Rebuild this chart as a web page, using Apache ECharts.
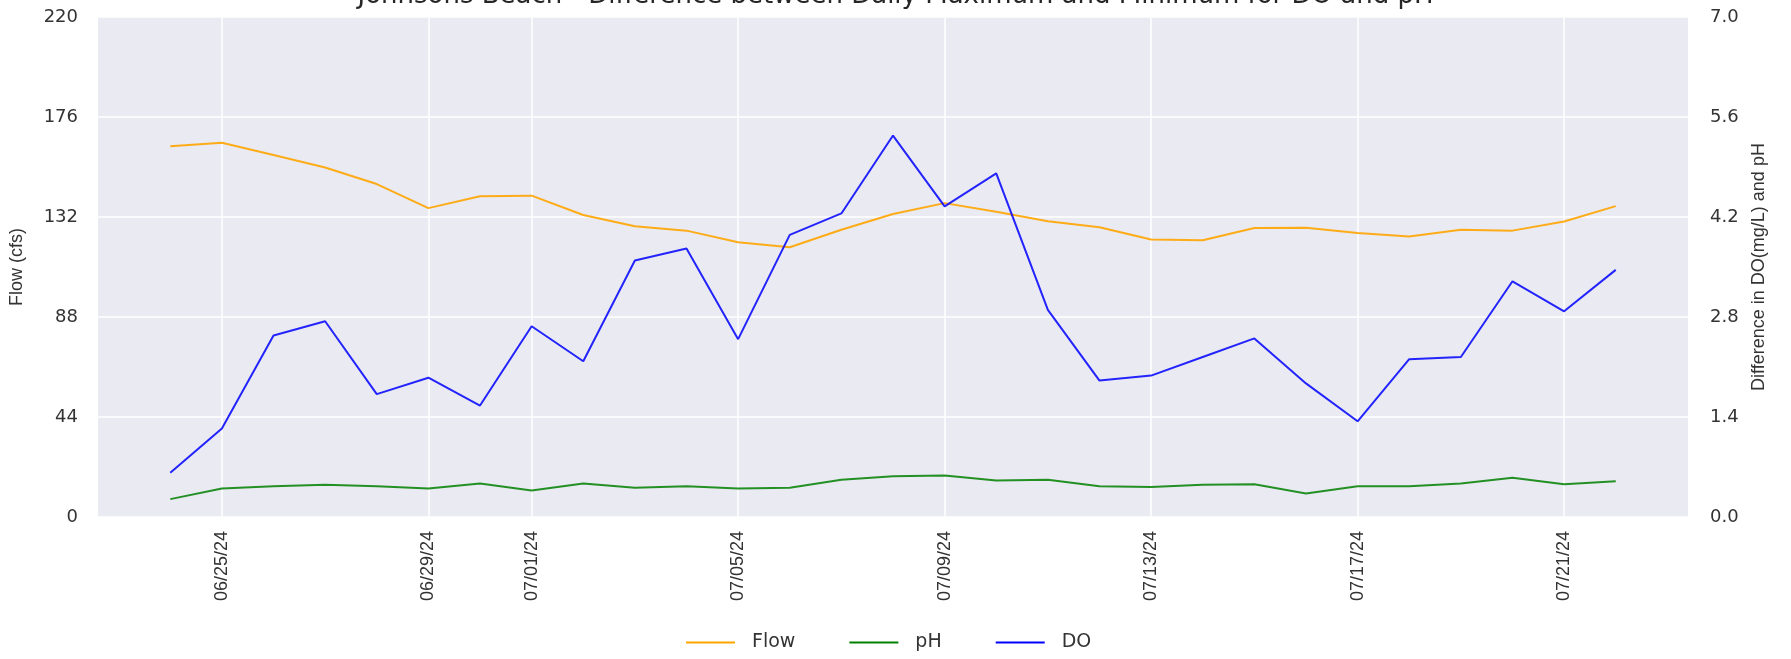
<!DOCTYPE html>
<html>
<head>
<meta charset="utf-8">
<title>Johnsons Beach</title>
<script src="https://cdn.jsdelivr.net/npm/echarts@6/dist/echarts.min.js"></script>
<style>
  html, body { margin: 0; padding: 0; background: #fff; }
  #chart { width: 1791px; height: 659px; }
</style>
</head>
<body>
<div id="chart"></div>
<script>
// 日期 (06/24/24 - 07/22/24)
const dates = [
  '2024-06-24', '2024-06-25', '2024-06-26', '2024-06-27', '2024-06-28', '2024-06-29', '2024-06-30',
  '2024-07-01', '2024-07-02', '2024-07-03', '2024-07-04', '2024-07-05', '2024-07-06', '2024-07-07',
  '2024-07-08', '2024-07-09', '2024-07-10', '2024-07-11', '2024-07-12', '2024-07-13', '2024-07-14',
  '2024-07-15', '2024-07-16', '2024-07-17', '2024-07-18', '2024-07-19', '2024-07-20', '2024-07-21',
  '2024-07-22'
]
// Flow (cfs)
const flow = [163.1, 164.7, 159.3, 153.8, 146.5, 135.9, 141.1, 141.4, 132.9, 127.9, 126.0, 120.9, 118.7, 126.4,
  133.3, 138.1, 134.3, 130.1, 127.5, 122.1, 121.8, 127.2, 127.3, 125.0, 123.4, 126.4, 126.0, 130.0, 136.8]
// pH 日最大最小差
const phDiff = [0.25, 0.40, 0.43, 0.45, 0.43, 0.40, 0.47, 0.37, 0.47, 0.41, 0.43, 0.40, 0.41, 0.52,
  0.57, 0.58, 0.51, 0.52, 0.43, 0.42, 0.45, 0.46, 0.33, 0.43, 0.43, 0.47, 0.55, 0.46, 0.50]
// DO 日最大最小差 (mg/L)
const doDiff = [0.62, 1.24, 2.54, 2.74, 1.72, 1.95, 1.56, 2.67, 2.18, 3.59, 3.76, 2.49, 3.95, 4.25,
  5.34, 4.35, 4.81, 2.90, 1.91, 1.98, 2.24, 2.50, 1.87, 1.34, 2.21, 2.24, 3.30, 2.88, 3.46]
// x 轴刻度
const xTicks = ['2024-06-25', '2024-06-29', '2024-07-01', '2024-07-05', '2024-07-09', '2024-07-13', '2024-07-17', '2024-07-21']
const flowTicks = [0, 44, 88, 132, 176, 220]
const diffTicks = [0, 1.4, 2.8, 4.2, 5.6, 7.0]

const DAY = 24 * 3600 * 1000
const toTime = s => {
  const p = s.split('-')
  return new Date(+p[0], +p[1] - 1, +p[2]).getTime()
}
const t0 = toTime(dates[0])
// x 轴用“距第一天的天数”
const toDay = s => Math.round((toTime(s) - t0) / DAY)
const pad = n => (n < 10 ? '0' : '') + n
const fmtDay = v => {
  const d = new Date(t0 + Math.round(v) * DAY)
  return pad(d.getMonth() + 1) + '/' + pad(d.getDate()) + '/' + String(d.getFullYear()).slice(2)
}
const pairs = arr => dates.map((d, i) => [toDay(d), arr[i]])

const tickDays = xTicks.map(toDay)
// matplotlib 默认留 5% 边距
const span = toDay(dates[dates.length - 1])
const margin = span * 0.05

const gridLine = { show: true, lineStyle: { color: '#ffffff', width: 1.5 } }
const vText = { fontFamily: 'Liberation Sans', fontSize: 18, color: '#333' }

const myChart = echarts.init(document.getElementById('chart'))
myChart.setOption({
  animation: false,
  title: {
    text: 'Johnsons Beach - Difference between Daily Maximum and Minimum for DO and pH',
    left: 'center',
    top: -22,
    textStyle: { fontFamily: 'DejaVu Sans', fontSize: 26, fontWeight: 'normal', color: '#262626' }
  },
  legend: {
    data: ['Flow', 'pH', 'DO'],
    left: 681,
    top: 628,
    icon: 'rect',
    itemWidth: 49,
    itemHeight: 2,
    itemGap: 54,
    textStyle: { fontFamily: 'DejaVu Sans', fontSize: 19, color: '#333', padding: [0, 0, 0, 12] }
  },
  grid: {
    left: 97,
    right: 103,
    top: 17,
    bottom: 142,
    show: true,
    backgroundColor: '#eaeaf2',
    borderWidth: 0
  },
  xAxis: {
    type: 'value',
    min: -margin,
    max: span + margin,
    axisLine: { show: false },
    axisTick: { show: false, customValues: tickDays },
    splitLine: gridLine,
    axisLabel: {
      customValues: tickDays,
      rotate: 90,
      margin: 14,
      fontFamily: 'Liberation Sans',
      fontSize: 18,
      color: '#333',
      formatter: v => fmtDay(v)
    }
  },
  yAxis: [
    {
      type: 'value',
      name: 'Flow (cfs)',
      nameLocation: 'middle',
      nameGap: 72,
      nameTextStyle: vText,
      min: flowTicks[0],
      max: flowTicks[flowTicks.length - 1],
      interval: flowTicks[1] - flowTicks[0],
      axisLine: { show: false },
      axisTick: { show: false },
      splitLine: gridLine,
      axisLabel: { margin: 20, fontFamily: 'DejaVu Sans', fontSize: 18, color: '#333' }
    },
    {
      type: 'value',
      name: 'Difference in DO(mg/L) and pH',
      nameLocation: 'middle',
      nameGap: 62,
      nameTextStyle: vText,
      position: 'right',
      min: diffTicks[0],
      max: diffTicks[diffTicks.length - 1],
      interval: diffTicks[1] - diffTicks[0],
      axisLine: { show: false },
      axisTick: { show: false },
      splitLine: { show: false },
      axisLabel: {
        margin: 22,
        fontFamily: 'DejaVu Sans',
        fontSize: 18,
        color: '#333',
        formatter: v => v.toFixed(1)
      }
    }
  ],
  series: [
    {
      name: 'Flow',
      type: 'line',
      yAxisIndex: 0,
      symbol: 'none',
      data: pairs(flow),
      lineStyle: { color: '#ffa500', width: 2, opacity: 0.9 },
      itemStyle: { color: '#ffa500' }
    },
    {
      name: 'pH',
      type: 'line',
      yAxisIndex: 1,
      symbol: 'none',
      data: pairs(phDiff),
      lineStyle: { color: '#008000', width: 2, opacity: 0.85 },
      itemStyle: { color: '#008000' }
    },
    {
      name: 'DO',
      type: 'line',
      yAxisIndex: 1,
      symbol: 'none',
      data: pairs(doDiff),
      lineStyle: { color: '#0000ff', width: 2, opacity: 0.85 },
      itemStyle: { color: '#0000ff' }
    }
  ]
})
</script>
</body>
</html>
